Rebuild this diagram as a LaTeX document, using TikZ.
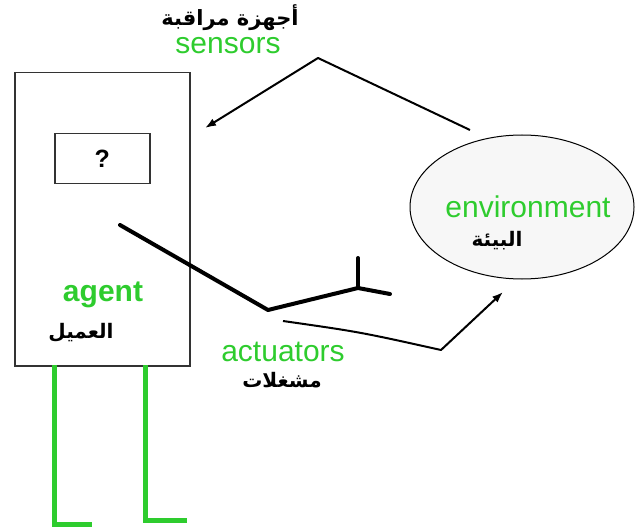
\documentclass[tikz,border=0pt]{standalone}
\usepackage{fontspec}
\setmainfont{Liberation Sans}
\newfontfamily\arabicfont[Script=Arabic]{DejaVu Sans}
\TeXXeTstate=1
\usetikzlibrary{arrows.meta,positioning,shapes.geometric}

\definecolor{legreen}{RGB}{46,204,46}

\begin{document}
\begin{tikzpicture}[
  x=1pt, y=-1pt,
  >={Latex[length=11pt,width=8pt]},
  box/.style={draw=black!80, line width=1.5pt, inner sep=0pt, anchor=north west},
  entxt/.style={text=legreen, font=\fontsize{30}{32}\selectfont, inner sep=0pt},
  artxt/.style={font=\arabicfont\bfseries\fontsize{20}{22}\selectfont, inner sep=0pt},
  arm/.style={line width=4pt, line cap=round, line join=round},
  leg/.style={draw=legreen, line width=5pt},
  flow/.style={->, line width=2pt, line join=round}
]
\useasboundingbox (0,0) rectangle (636,529);

% agent
\node[box, minimum width=175pt, minimum height=293pt] (agent) at (14,72) {};
\node[box, minimum width=95pt, minimum height=50pt] (qbox) at (54,133) {};
\node[font=\bfseries\fontsize{25}{27}\selectfont] (q) at (qbox.center) {?};
\node[entxt, font=\bfseries\fontsize{30}{32}\selectfont] (agentlab) at (103,295) {agent};
\node[artxt] (agentar) at (81,333) {\beginR العميل\endR};

% legs
\draw[leg] (54,365) -- (54,524) -- (92,524);
\draw[leg] (145,365) -- (145,520) -- (187,520);

% environment
\node[ellipse, draw=black, line width=1pt, fill=black!3,
      minimum width=224pt, minimum height=144pt] (env) at (522,207) {};
\node[entxt] (envlab) at (528,207) {environment};
\node[artxt] (envar) at (497,241) {\beginR البيئة\endR};

% sensors
\node[artxt, font=\arabicfont\bfseries\fontsize{21}{23}\selectfont] (sensar) at (230,18) {\beginR أجهزة مراقبة\endR};
\node[entxt] (senslab) at (228,46) {sensors};
\coordinate (s1) at (470,130);
\coordinate (s2) at (318,58);
\coordinate (s3) at (205,128);
\draw[flow] (s1) -- (s2) -- (s3);

% actuators
\coordinate (a1) at (120,225);
\coordinate (a2) at (268,310);
\coordinate (a3) at (358,288);
\coordinate (a4) at (358,258);
\coordinate (a5) at (390,294);
\draw[arm] (a1) -- (a2) -- (a3) -- (a5);
\draw[arm] (a3) -- (a4);
\node[entxt] (actlab) at (283,352) {actuators};
\node[artxt] (actar) at (282,380) {\beginR مشغلات\endR};
\coordinate (f1) at (283,321);
\coordinate (f2) at (441,350);
\coordinate (f3) at (503,292);
\draw[flow] (f1) .. controls (360,332) .. (f2) -- (f3);
\end{tikzpicture}
\end{document}
